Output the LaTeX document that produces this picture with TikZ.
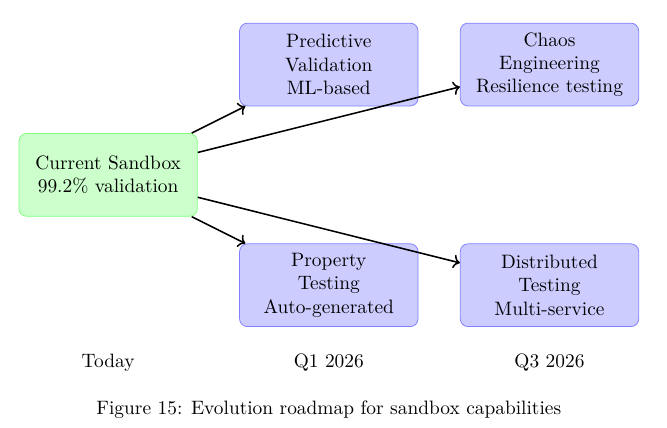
\documentclass[tikz,border=0pt]{standalone}
\usepackage{amsmath}
\usepackage{tikz}
\usetikzlibrary{arrows.meta, positioning}

\begin{document}
\begin{tikzpicture}[
    nowbox/.style={draw=green!50, fill=green!20, rounded corners, text width=3cm,
                   align=center, minimum height=1.5cm},
    futurebox/.style={draw=blue!50, fill=blue!20, rounded corners, text width=3cm,
                      align=center, minimum height=1.5cm},
    roadarrow/.style={->, thick}]
    \useasboundingbox (-1.96,-4.58) rectangle (10.13,3.17);
    \node[nowbox] (current) at (0,0) {Current Sandbox\\99.2\% validation};
    \node[futurebox] (predictive) at (4,2) {Predictive\\Validation\\ML-based};
    \node[futurebox] (property) at (4,-2) {Property\\Testing\\Auto-generated};
    \node[futurebox] (chaos) at (8,2) {Chaos\\Engineering\\Resilience testing};
    \node[futurebox] (distributed) at (8,-2) {Distributed\\Testing\\Multi-service};
    \draw[roadarrow] (current) -- (predictive);
    \draw[roadarrow] (current) -- (property);
    \draw[roadarrow] (current) -- (chaos);
    \draw[roadarrow] (current) -- (distributed);
    \node (today) at (0,-3.4) {Today};
    \node (q1) at (4,-3.4) {Q1 2026};
    \node (q3) at (8,-3.4) {Q3 2026};
    \node (caption) at (4,-4.25) {Figure 15: Evolution roadmap for sandbox capabilities};
  \end{tikzpicture}
\end{document}
